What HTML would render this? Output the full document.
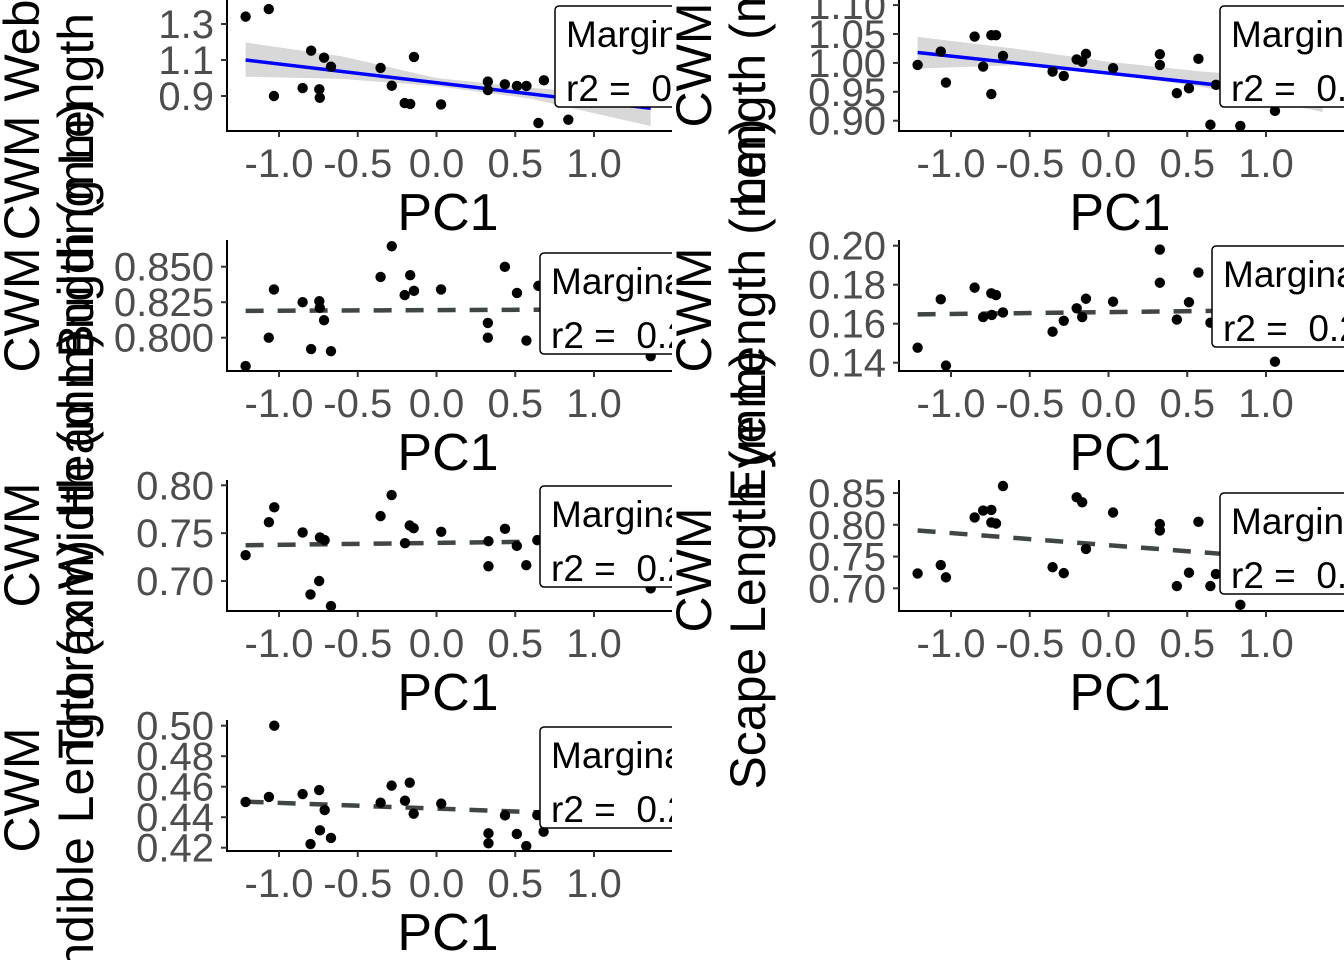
<!DOCTYPE html>
<html><head><meta charset="utf-8"><style>
html,body{margin:0;padding:0;background:#fff;width:1344px;height:960px;overflow:hidden;}
svg{display:block;overflow:hidden;font-family:"Liberation Sans",Arial,sans-serif;}
</style></head><body>
<svg id="chart" width="1344" height="960" viewBox="0 0 1344 960" xmlns="http://www.w3.org/2000/svg">
<defs>
<clipPath id="clipL"><rect x="0" y="0" width="672" height="960"/></clipPath>
<clipPath id="clipR"><rect x="672" y="0" width="672" height="960"/></clipPath>
</defs>
<g id="colL" clip-path="url(#clipL)"></g>
<g id="colR" clip-path="url(#clipR)"></g>
</svg>
<script>
// ---------- data ----------
const xTicks = [-1.0, -0.5, 0.0, 0.5, 1.0];
const xTickLabels = ["-1.0", "-0.5", "0.0", "0.5", "1.0"];

const aX = [-1.212,-1.065,-1.032,-0.850,-0.796,-0.744,-0.741,-0.714,-0.670,-0.355,-0.284,-0.202,-0.167,-0.143,0.029,0.326,0.326,0.434,0.511,0.571,0.647,0.682,0.837];
const aY = [1.341,1.383,0.900,0.944,1.152,0.937,0.890,1.113,1.063,1.056,0.957,0.861,0.856,1.117,0.853,0.980,0.933,0.965,0.956,0.956,0.750,0.987,0.768];
const aTicks = [0.9, 1.1, 1.3];
const aTickLabels = ["0.9", "1.1", "1.3"];
const aFitX = [-1.212, 1.36];
const aFitY = [1.100, 0.832];
const aBandX = [-1.212, -0.6, 0.0, 0.6, 1.36];
const aBandLo = [1.007, 0.995, 0.955, 0.885, 0.733];
const aBandHi = [1.197, 1.120, 1.000, 0.945, 0.896];

const bX = [-1.212,-1.065,-1.032,-0.850,-0.796,-0.744,-0.714,-0.744,-0.670,-0.355,-0.284,-0.202,-0.167,-0.143,0.029,0.326,0.326,0.434,0.511,0.571,0.647,0.682,0.837,1.057];
const bY = [0.9965,1.0196,0.966,1.0455,0.9937,1.048,1.048,0.946,1.012,0.985,0.9775,1.006,1.002,1.0156,0.9908,1.015,0.9965,0.9476,0.956,1.007,0.893,0.962,0.891,0.917];
const bTicks = [0.90, 0.95, 1.00, 1.05, 1.10];
const bTickLabels = ["0.90", "0.95", "1.00", "1.05", "1.10"];
const bFitX = [-1.212, 1.36];
const bFitY = [1.018, 0.942];
const bBandX = [-1.212, -0.6, 0.0, 0.6, 1.36];
const bBandLo = [0.990, 0.996, 0.982, 0.958, 0.915];
const bBandHi = [1.045, 1.025, 1.002, 0.985, 0.970];

const cX = [-1.212,-1.065,-1.032,-0.850,-0.796,-0.744,-0.741,-0.714,-0.670,-0.355,-0.284,-0.202,-0.167,-0.143,0.029,0.326,0.326,0.434,0.511,0.571,0.647,1.36];
const cY = [0.780,0.800,0.834,0.825,0.792,0.8257,0.821,0.8123,0.7905,0.8428,0.8644,0.830,0.844,0.833,0.834,0.8104,0.800,0.8499,0.8315,0.798,0.8365,0.787];
const cTicks = [0.800, 0.825, 0.850];
const cTickLabels = ["0.800", "0.825", "0.850"];
const cFitX = [-1.212, 1.36];
const cFitY = [0.8189, 0.8200];

const dX = [-1.212,-1.065,-1.032,-0.850,-0.796,-0.744,-0.741,-0.714,-0.670,-0.355,-0.284,-0.202,-0.167,-0.143,0.029,0.326,0.326,0.434,0.511,0.571,0.647,1.057];
const dY = [0.1477,0.1725,0.1385,0.1785,0.1634,0.1756,0.1645,0.1747,0.1658,0.1559,0.1615,0.1679,0.1634,0.1728,0.1713,0.1980,0.1810,0.1621,0.1710,0.1862,0.1605,0.1405];
const dTicks = [0.14, 0.16, 0.18, 0.20];
const dTickLabels = ["0.14", "0.16", "0.18", "0.20"];
const dFitX = [-1.212, 1.36];
const dFitY = [0.1648, 0.1672];

const eX = [-1.212,-1.064,-1.030,-0.850,-0.800,-0.745,-0.740,-0.710,-0.670,-0.355,-0.285,-0.200,-0.170,-0.145,0.030,0.330,0.330,0.435,0.510,0.570,0.640,1.36];
const eY = [0.727,0.7615,0.777,0.7507,0.686,0.700,0.7455,0.7427,0.6738,0.7678,0.7898,0.7395,0.758,0.7552,0.7514,0.7416,0.7154,0.7545,0.7367,0.7165,0.7427,0.6923];
const eTicks = [0.70, 0.75, 0.80];
const eTickLabels = ["0.70", "0.75", "0.80"];
const eFitX = [-1.212, 1.36];
const eFitY = [0.7374, 0.7425];

const fX = [-1.212,-1.065,-1.032,-0.850,-0.796,-0.744,-0.744,-0.714,-0.670,-0.355,-0.284,-0.202,-0.167,-0.143,0.029,0.326,0.326,0.434,0.511,0.571,0.647,0.682,0.837];
const fY = [0.7234,0.7365,0.7172,0.8115,0.8224,0.8234,0.8036,0.802,0.861,0.7333,0.7239,0.8432,0.8354,0.762,0.8193,0.801,0.791,0.7036,0.7245,0.8047,0.7036,0.7224,0.674];
const fTicks = [0.70, 0.75, 0.80, 0.85];
const fTickLabels = ["0.70", "0.75", "0.80", "0.85"];
const fFitX = [-1.212, 1.36];
const fFitY = [0.791, 0.742];

const gX = [-1.212,-1.064,-1.030,-0.850,-0.800,-0.745,-0.740,-0.710,-0.670,-0.355,-0.285,-0.200,-0.170,-0.145,0.030,0.330,0.330,0.435,0.510,0.570,0.640,0.680];
const gY = [0.450,0.4533,0.500,0.4552,0.4224,0.4578,0.4314,0.4447,0.4264,0.4495,0.4607,0.4508,0.4626,0.4423,0.4489,0.4294,0.4229,0.4412,0.429,0.4211,0.4414,0.4305];
const gTicks = [0.42, 0.44, 0.46, 0.48, 0.50];
const gTickLabels = ["0.42", "0.44", "0.46", "0.48", "0.50"];
const gFitX = [-1.212, 1.36];
const gFitY = [0.4502, 0.4405];

// ---------- layout ----------
const NS = "http://www.w3.org/2000/svg";
function mk(tag, attrs, parent){
  const e = document.createElementNS(NS, tag);
  for (const k in attrs) e.setAttribute(k, attrs[k]);
  parent.appendChild(e);
  return e;
}
const panels = [
 {id:"web-length", col:"L", top:0, axisY:131, t1:[1.3,24], t2:[0.9,96], xs:aX, ys:aY, ticks:aTicks, tl:aTickLabels, fitX:aFitX, fitY:aFitY, bandX:aBandX, lo:aBandLo, hi:aBandHi, solid:true, lab:["CWM Web","Building Length (mm)"], labY:120, leg:[555,6]},
 {id:"body-length", col:"R", top:0, axisY:131, t1:[1.05,34], t2:[0.90,120.7], xs:bX, ys:bY, ticks:bTicks, tl:bTickLabels, fitX:bFitX, fitY:bFitY, bandX:bBandX, lo:bBandLo, hi:bBandHi, solid:true, lab:["CWM","Length (mm)"], labY:65, leg:[1220,6]},
 {id:"head-length", col:"L", top:240, axisY:371, t1:[0.850,266.7], t2:[0.800,337.7], xs:cX, ys:cY, ticks:cTicks, tl:cTickLabels, fitX:cFitX, fitY:cFitY, solid:false, lab:["CWM","Head Length (mm)"], labY:310, leg:[540,253]},
 {id:"eye-length", col:"R", top:240, axisY:371, t1:[0.20,245.7], t2:[0.14,362.7], xs:dX, ys:dY, ticks:dTicks, tl:dTickLabels, fitX:dFitX, fitY:dFitY, solid:false, lab:["CWM","Eye Length (mm)"], labY:310, leg:[1212,246]},
 {id:"thorax-width", col:"L", top:480, axisY:611, t1:[0.80,485.3], t2:[0.70,581], xs:eX, ys:eY, ticks:eTicks, tl:eTickLabels, fitX:eFitX, fitY:eFitY, solid:false, lab:["CWM","Thorax Width (mm)"], labY:545, leg:[540,486]},
 {id:"scape-length", col:"R", top:480, axisY:611, t1:[0.85,493], t2:[0.70,588.3], xs:fX, ys:fY, ticks:fTicks, tl:fTickLabels, fitX:fFitX, fitY:fFitY, solid:false, lab:["CWM","Scape Length (mm)"], labY:570, leg:[1220,493]},
 {id:"mandible-length", col:"L", top:720, axisY:851, t1:[0.50,725.7], t2:[0.42,847.7], xs:gX, ys:gY, ticks:gTicks, tl:gTickLabels, fitX:gFitX, fitY:gFitY, solid:false, lab:["CWM","Mandible Length (mm)"], labY:790, leg:[540,727]}
];

panels.forEach(p => {
  const off = p.col === "L" ? 0 : 672;
  const root = document.getElementById(p.col === "L" ? "colL" : "colR");
  const xS = v => off + 436.5 + 157.5 * v;
  const yS = v => p.t1[1] + (v - p.t1[0]) * (p.t2[1] - p.t1[1]) / (p.t2[0] - p.t1[0]);
  const g = mk("g", {}, root);
  
  

  const lx = [off + 22, off + 76];
  p.lab.forEach((s, i) => {
    const t = mk("text", {x:0, y:0, transform:`translate(${lx[i]},${p.labY}) rotate(-90)`, "text-anchor":"middle", "dominant-baseline":"central", "font-size":"50", fill:"#000"}, g);
    t.textContent = s;
    
    
  });

  if (p.bandX) {
    let d = "";
    p.bandX.forEach((x, i) => { d += (i ? "L" : "M") + xS(x) + "," + yS(p.hi[i]); });
    for (let i = p.bandX.length - 1; i >= 0; i--) d += "L" + xS(p.bandX[i]) + "," + yS(p.lo[i]);
    const band = mk("path", {d: d + "Z", fill:"#d4d4d4", opacity:"0.9"}, g);
    
    
  }
  const fl = mk("line", {x1:xS(p.fitX[0]), y1:yS(p.fitY[0]), x2:xS(p.fitX[1]), y2:yS(p.fitY[1])}, g);
  if (p.solid) { fl.setAttribute("stroke", "#0000ff"); fl.setAttribute("stroke-width", "3.5"); }
  else { fl.setAttribute("stroke", "#404545"); fl.setAttribute("stroke-width", "4.5"); fl.setAttribute("stroke-dasharray", "18 14"); }
  
  

  p.xs.forEach((x, i) => {
    const c = mk("circle", {cx:xS(x), cy:yS(p.ys[i]), r:"5.2", fill:"#000"}, g);
    
    
  });

  const ax = mk("line", {x1:off+227, y1:p.axisY, x2:off+680, y2:p.axisY, stroke:"#000", "stroke-width":"2"}, g);
  
  
  const ay = mk("line", {x1:off+227, y1:p.top, x2:off+227, y2:p.axisY+1, stroke:"#000", "stroke-width":"2"}, g);
  
  

  xTicks.forEach((v, i) => {
    mk("line", {x1:xS(v), y1:p.axisY, x2:xS(v), y2:p.axisY+6, stroke:"#333", "stroke-width":"2"}, g);
    const t = mk("text", {x:xS(v), y:p.axisY+46, "text-anchor":"middle", "font-size":"40", fill:"#4d4d4d"}, g);
    t.textContent = xTickLabels[i];
    
    
  });
  p.ticks.forEach((v, i) => {
    mk("line", {x1:off+221, y1:yS(v), x2:off+227, y2:yS(v), stroke:"#333", "stroke-width":"2"}, g);
    const t = mk("text", {x:off+214, y:yS(v)+14, "text-anchor":"end", "font-size":"40", fill:"#4d4d4d"}, g);
    t.textContent = p.tl[i];
    
    
  });
  const xt = mk("text", {x:off+448, y:p.axisY+99, "text-anchor":"middle", "font-size":"52", fill:"#000"}, g);
  xt.textContent = "PC1";
  
  

  const lg = mk("g", {}, g);
  
  
  mk("rect", {x:p.leg[0], y:p.leg[1], width:260, height:101, rx:4, fill:"#fff", stroke:"#000", "stroke-width":"1.5"}, lg);
  const l1 = mk("text", {x:p.leg[0]+11, y:p.leg[1]+41, "font-size":"37", fill:"#000"}, lg);
  l1.textContent = "Marginal R2 = 0.2";
  const l2 = mk("text", {x:p.leg[0]+11, y:p.leg[1]+95, "font-size":"37", fill:"#000"}, lg);
  l2.textContent = "r2 =\u00a0 0.2";
});
</script>
</body></html>
